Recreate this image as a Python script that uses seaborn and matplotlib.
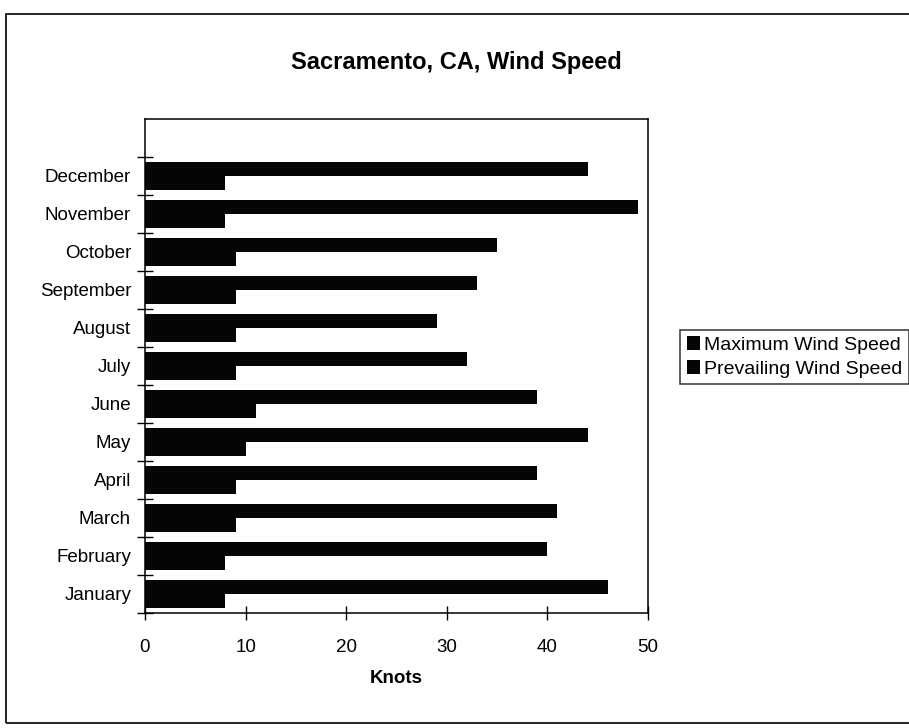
import matplotlib
matplotlib.use("Agg")
import matplotlib.pyplot as plt
from matplotlib.patches import Rectangle
from matplotlib.ticker import FixedLocator
import seaborn as sns
import pandas as pd

# ---- data ----
months = ["January", "February", "March", "April", "May", "June",
          "July", "August", "September", "October", "November", "December"]
max_speed = [46, 40, 41, 39, 44, 39, 32, 29, 33, 35, 49, 44]
prevailing_speed = [8, 8, 9, 9, 10, 11, 9, 9, 9, 9, 8, 8]
series_names = ["Maximum Wind Speed", "Prevailing Wind Speed"]
x_ticks = [0, 10, 20, 30, 40, 50]
title = "Sacramento, CA, Wind Speed"
x_label = "Knots"

rows = []
for m, a, b in zip(months, max_speed, prevailing_speed):
    rows.append({"Month": m, "Series": series_names[0], "Knots": a})
    rows.append({"Month": m, "Series": series_names[1], "Knots": b})
df = pd.DataFrame(rows)

sns.set_style("ticks")
plt.rcParams["font.family"] = ["Liberation Sans", "DejaVu Sans"]
plt.rcParams["text.color"] = "black"
plt.rcParams["axes.labelcolor"] = "black"
plt.rcParams["xtick.color"] = "black"
plt.rcParams["ytick.color"] = "black"

W, H = 909, 728
fig = plt.figure(figsize=(W / 100, H / 100), dpi=100)
ax = fig.add_axes([145 / W, 1 - 613 / H, (648 - 145) / W, (613 - 119) / H])

order = months[::-1]  # December at top
sns.barplot(data=df, x="Knots", y="Month", hue="Series", orient="h",
            order=order, hue_order=series_names,
            palette=["#050505", "#050505"], saturation=1,
            width=0.72, ax=ax, errorbar=None)

for p in ax.patches:
    p.set_edgecolor("none")

ax.set_xlim(0, 50)
ax.set_ylim(11.5, -1.5)

# frame
for s in ax.spines.values():
    s.set_visible(True)
    s.set_color("black")
    s.set_linewidth(1.1)

# x ticks (cross style)
ax.set_xticks(x_ticks)
ax.set_xticklabels([str(t) for t in x_ticks])
ax.tick_params(axis="x", direction="inout", length=10, width=1.0,
               pad=14, labelsize=13.5, colors="black")

# y ticks: labels at category centers, cross ticks at boundaries
ax.tick_params(axis="y", which="major", length=0, pad=10, labelsize=13.5,
               colors="black")
ax.yaxis.set_minor_locator(FixedLocator([i - 0.5 for i in range(13)]))
ax.tick_params(axis="y", which="minor", direction="inout", length=12,
               width=1.0, colors="black")

ax.set_xlabel(x_label, fontsize=13.5, fontweight="bold", labelpad=10,
              color="black")
ax.set_ylabel("")

# legend
handles, labels = ax.get_legend_handles_labels()
if ax.get_legend() is not None:
    ax.get_legend().remove()
leg = fig.legend(handles, labels, loc="center left",
                 bbox_to_anchor=(680 / W, 1 - 357 / H),
                 fontsize=14, frameon=True, fancybox=False,
                 handlelength=0.7, handleheight=0.7, handletextpad=0.2,
                 borderpad=0.35, labelspacing=0.3, borderaxespad=0)
leg.get_frame().set_edgecolor("black")
leg.get_frame().set_linewidth(1.1)
for t in leg.get_texts():
    t.set_color("black")

# title
fig.text(456 / W, 1 - 62 / H, title, ha="center", va="center",
         fontsize=17, fontweight="bold", color="black")

# outer chart border (runs off right edge)
fig.add_artist(Rectangle((6 / W, 1 - 723 / H), (930 - 6) / W, (723 - 14) / H,
                         transform=fig.transFigure, fill=False,
                         edgecolor="black", linewidth=1.2, clip_on=False))

fig.savefig("out.png", dpi=100)
